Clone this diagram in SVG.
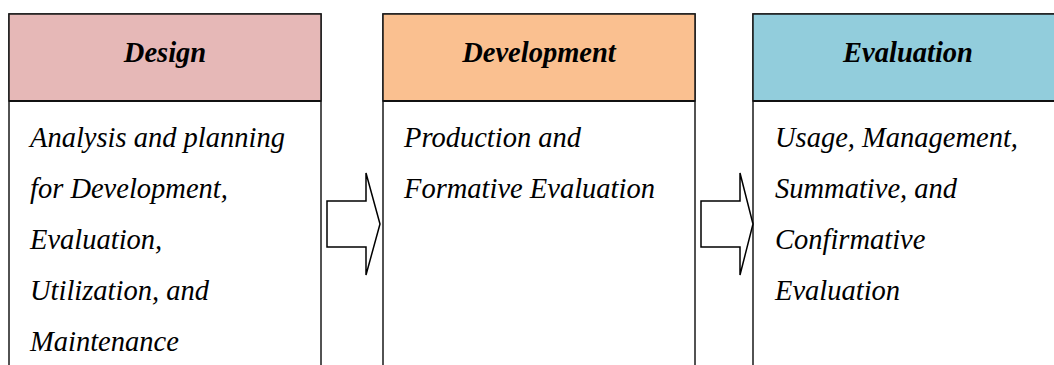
<svg xmlns="http://www.w3.org/2000/svg" width="1054" height="365" viewBox="0 0 1054 365">
<style>
.box{fill:#ffffff;stroke:#1a1a1a;stroke-width:1.5}
.hdr{stroke:#1a1a1a;stroke-width:1.5}
.sep{stroke:#111;stroke-width:2.2}
text{font-family:'Liberation Serif',serif;font-style:italic;fill:#000;font-size:28.5px}
.ht{font-weight:bold;text-anchor:middle}
.arr{fill:#ffffff;stroke:#000;stroke-width:1.5;stroke-linejoin:miter}
</style>
<rect width="1054" height="365" fill="#ffffff"/>
<g id="design">
<rect class="box" x="9" y="14" width="312" height="380"/>
<rect class="hdr" x="9" y="14" width="312" height="87" fill="#E6B8B7"/>
<line class="sep" x1="9" y1="101" x2="321" y2="101"/>
<text class="ht" x="165" y="62">Design</text>
<text class="bt" x="30" y="147">Analysis and planning</text>
<text class="bt" x="30" y="198">for Development,</text>
<text class="bt" x="30" y="249">Evaluation,</text>
<text class="bt" x="30" y="300">Utilization, and</text>
<text class="bt" x="30" y="351">Maintenance</text>
</g>
<g id="development">
<rect class="box" x="383" y="14" width="312" height="380"/>
<rect class="hdr" x="383" y="14" width="312" height="87" fill="#FAC090"/>
<line class="sep" x1="383" y1="101" x2="695" y2="101"/>
<text class="ht" x="539" y="62">Development</text>
<text class="bt" x="404" y="147">Production and</text>
<text class="bt" x="404" y="198">Formative Evaluation</text>
</g>
<g id="evaluation">
<rect class="box" x="753" y="14" width="310" height="380"/>
<rect class="hdr" x="753" y="14" width="310" height="87" fill="#92CDDC"/>
<line class="sep" x1="753" y1="101" x2="1063" y2="101"/>
<text class="ht" x="908" y="62">Evaluation</text>
<text class="bt" x="775" y="147">Usage, Management,</text>
<text class="bt" x="775" y="198">Summative, and</text>
<text class="bt" x="775" y="249">Confirmative</text>
<text class="bt" x="775" y="300">Evaluation</text>
</g>
<g id="connectors">
<polygon class="arr" points="327,201 366,201 366,173 380,224 366,275 366,247 327,247"/>
<polygon class="arr" points="701,201 740,201 740,173 753,224 740,275 740,247 701,247"/>
</g>
</svg>
